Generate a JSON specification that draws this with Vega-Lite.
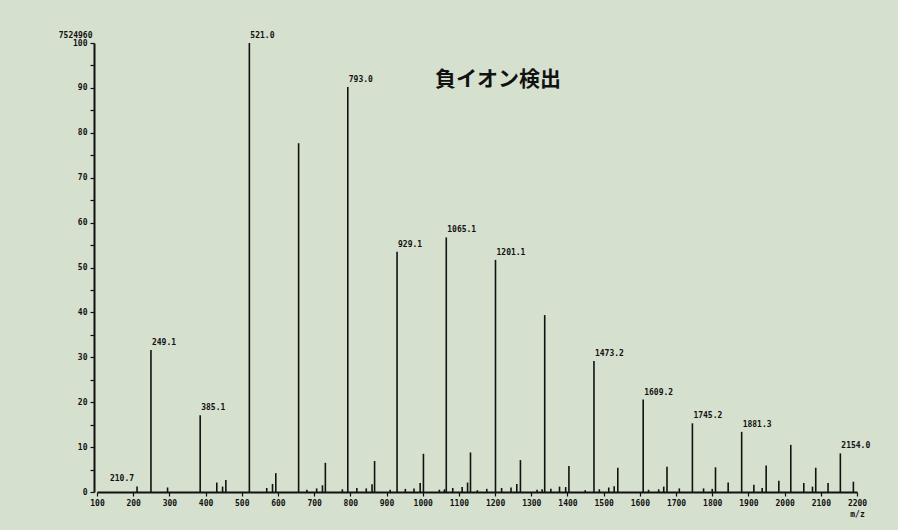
{
  "$schema": "https://vega.github.io/schema/vega-lite/v6.json",
  "width": 760,
  "height": 449,
  "autosize": "none",
  "padding": {"left": 97, "top": 43, "right": 41, "bottom": 38},
  "background": "#d6e0cf",
  "title": {
    "text": "負イオン検出",
    "anchor": "start",
    "frame": "group",
    "orient": "top",
    "offset": 0,
    "dx": 338,
    "dy": 59,
    "font": "Noto Sans CJK JP",
    "fontSize": 21,
    "fontWeight": "bold",
    "color": "#111111"
  },
  "data": {
    "values": [
      {"mz": 210.7, "intensity": 1.2, "label": "210.7"},
      {"mz": 249.1, "intensity": 31.6, "label": "249.1"},
      {"mz": 295, "intensity": 1.0, "label": ""},
      {"mz": 385.1, "intensity": 17.1, "label": "385.1"},
      {"mz": 431, "intensity": 2.1, "label": ""},
      {"mz": 447, "intensity": 1.2, "label": ""},
      {"mz": 456, "intensity": 2.7, "label": ""},
      {"mz": 521.0, "intensity": 100, "label": "521.0"},
      {"mz": 569, "intensity": 0.9, "label": ""},
      {"mz": 585, "intensity": 1.8, "label": ""},
      {"mz": 594, "intensity": 4.2, "label": ""},
      {"mz": 657.1, "intensity": 77.7, "label": ""},
      {"mz": 680, "intensity": 0.5, "label": ""},
      {"mz": 707, "intensity": 0.8, "label": ""},
      {"mz": 723, "intensity": 1.5, "label": ""},
      {"mz": 731, "intensity": 6.5, "label": ""},
      {"mz": 778, "intensity": 0.6, "label": ""},
      {"mz": 793.0, "intensity": 90.2, "label": "793.0"},
      {"mz": 818, "intensity": 0.9, "label": ""},
      {"mz": 844, "intensity": 0.8, "label": ""},
      {"mz": 860, "intensity": 1.7, "label": ""},
      {"mz": 867, "intensity": 6.9, "label": ""},
      {"mz": 910, "intensity": 0.5, "label": ""},
      {"mz": 929.1, "intensity": 53.5, "label": "929.1"},
      {"mz": 952, "intensity": 0.7, "label": ""},
      {"mz": 976, "intensity": 0.8, "label": ""},
      {"mz": 993, "intensity": 2.0, "label": ""},
      {"mz": 1002, "intensity": 8.5, "label": ""},
      {"mz": 1046, "intensity": 0.5, "label": ""},
      {"mz": 1060, "intensity": 0.6, "label": ""},
      {"mz": 1065.1, "intensity": 56.7, "label": "1065.1"},
      {"mz": 1083, "intensity": 0.9, "label": ""},
      {"mz": 1109, "intensity": 1.1, "label": ""},
      {"mz": 1124, "intensity": 2.1, "label": ""},
      {"mz": 1132, "intensity": 8.8, "label": ""},
      {"mz": 1151, "intensity": 0.4, "label": ""},
      {"mz": 1177, "intensity": 0.7, "label": ""},
      {"mz": 1201.1, "intensity": 51.7, "label": "1201.1"},
      {"mz": 1218, "intensity": 0.9, "label": ""},
      {"mz": 1244, "intensity": 1.0, "label": ""},
      {"mz": 1260, "intensity": 1.8, "label": ""},
      {"mz": 1270, "intensity": 7.1, "label": ""},
      {"mz": 1316, "intensity": 0.5, "label": ""},
      {"mz": 1330, "intensity": 0.6, "label": ""},
      {"mz": 1337.1, "intensity": 39.4, "label": ""},
      {"mz": 1354, "intensity": 0.7, "label": ""},
      {"mz": 1378, "intensity": 1.2, "label": ""},
      {"mz": 1395, "intensity": 1.1, "label": ""},
      {"mz": 1404, "intensity": 5.8, "label": ""},
      {"mz": 1449, "intensity": 0.4, "label": ""},
      {"mz": 1473.2, "intensity": 29.2, "label": "1473.2"},
      {"mz": 1488, "intensity": 0.6, "label": ""},
      {"mz": 1514, "intensity": 1.0, "label": ""},
      {"mz": 1529, "intensity": 1.3, "label": ""},
      {"mz": 1539, "intensity": 5.4, "label": ""},
      {"mz": 1609.2, "intensity": 20.6, "label": "1609.2"},
      {"mz": 1624, "intensity": 0.5, "label": ""},
      {"mz": 1652, "intensity": 0.6, "label": ""},
      {"mz": 1666, "intensity": 1.2, "label": ""},
      {"mz": 1675, "intensity": 5.6, "label": ""},
      {"mz": 1709, "intensity": 0.8, "label": ""},
      {"mz": 1745.2, "intensity": 15.3, "label": "1745.2"},
      {"mz": 1776, "intensity": 0.8, "label": ""},
      {"mz": 1800, "intensity": 0.7, "label": ""},
      {"mz": 1809, "intensity": 5.5, "label": ""},
      {"mz": 1844, "intensity": 2.1, "label": ""},
      {"mz": 1881.3, "intensity": 13.4, "label": "1881.3"},
      {"mz": 1915, "intensity": 1.6, "label": ""},
      {"mz": 1938, "intensity": 0.9, "label": ""},
      {"mz": 1949, "intensity": 5.9, "label": ""},
      {"mz": 1984, "intensity": 2.5, "label": ""},
      {"mz": 2017, "intensity": 10.5, "label": ""},
      {"mz": 2053, "intensity": 2.0, "label": ""},
      {"mz": 2077, "intensity": 1.2, "label": ""},
      {"mz": 2086, "intensity": 5.4, "label": ""},
      {"mz": 2120, "intensity": 2.0, "label": ""},
      {"mz": 2154.0, "intensity": 8.6, "label": "2154.0"},
      {"mz": 2190, "intensity": 2.3, "label": ""}
    ]
  },
  "encoding": {
    "x": {
      "field": "mz",
      "type": "quantitative",
      "scale": {"domain": [100, 2200], "nice": false, "zero": false},
      "axis": {
        "title": "m/z",
        "titleX": 760,
        "titleY": 22,
        "titleAlign": "center",
        "titleBaseline": "middle",
        "titleFont": "DejaVu Sans Mono",
        "titleFontSize": 8,
        "titleFontWeight": "bold",
        "titleColor": "#111111",
        "values": [100,200,300,400,500,600,700,800,900,1000,1100,1200,1300,1400,1500,1600,1700,1800,1900,2000,2100,2200],
        "format": "d",
        "labelFont": "DejaVu Sans Mono",
        "labelFontSize": 8,
        "labelFontWeight": "bold",
        "labelColor": "#111111",
        "labelPadding": 3,
        "labelFlush": false,
        "labelOverlap": false,
        "grid": false,
        "tickColor": "#111111",
        "tickSize": 4,
        "tickWidth": 1.2,
        "domainColor": "#111111",
        "domainWidth": 2
      }
    },
    "y": {
      "field": "intensity",
      "type": "quantitative",
      "scale": {"domain": [0, 100], "nice": false},
      "axis": {
        "title": "7524960",
        "titleAngle": 0,
        "titleX": -2,
        "titleY": -4,
        "titleAlign": "right",
        "titleBaseline": "bottom",
        "titleFont": "DejaVu Sans Mono",
        "titleFontSize": 8,
        "titleFontWeight": "bold",
        "titleColor": "#111111",
        "values": [0,5,10,15,20,25,30,35,40,45,50,55,60,65,70,75,80,85,90,95,100],
        "labelExpr": "datum.value % 10 == 0 ? datum.label : ''",
        "labelFont": "DejaVu Sans Mono",
        "labelFontSize": 8,
        "labelFontWeight": "bold",
        "labelColor": "#111111",
        "labelPadding": 3,
        "labelFlush": false,
        "labelOverlap": false,
        "grid": false,
        "offset": 3,
        "tickColor": "#111111",
        "tickSize": 4,
        "tickWidth": 1.2,
        "domainColor": "#111111",
        "domainWidth": 2
      }
    }
  },
  "layer": [
    {
      "mark": {"type": "rule", "color": "#111111", "strokeWidth": 1.6},
      "encoding": {
        "y": {"datum": 0},
        "y2": {"field": "intensity"}
      }
    },
    {
      "transform": [{"filter": "datum.label != '' && datum.mz > 220"}],
      "mark": {
        "type": "text",
        "align": "left",
        "baseline": "bottom",
        "dx": 1,
        "dy": -3,
        "font": "DejaVu Sans Mono",
        "fontSize": 8,
        "fontWeight": "bold",
        "color": "#111111"
      },
      "encoding": {"text": {"field": "label"}}
    },
    {
      "transform": [{"filter": "datum.label != '' && datum.mz < 220"}],
      "mark": {
        "type": "text",
        "align": "right",
        "baseline": "bottom",
        "dx": -3,
        "dy": -4,
        "font": "DejaVu Sans Mono",
        "fontSize": 8,
        "fontWeight": "bold",
        "color": "#111111"
      },
      "encoding": {"text": {"field": "label"}}
    }
  ],
  "config": {"view": {"stroke": null}}
}
